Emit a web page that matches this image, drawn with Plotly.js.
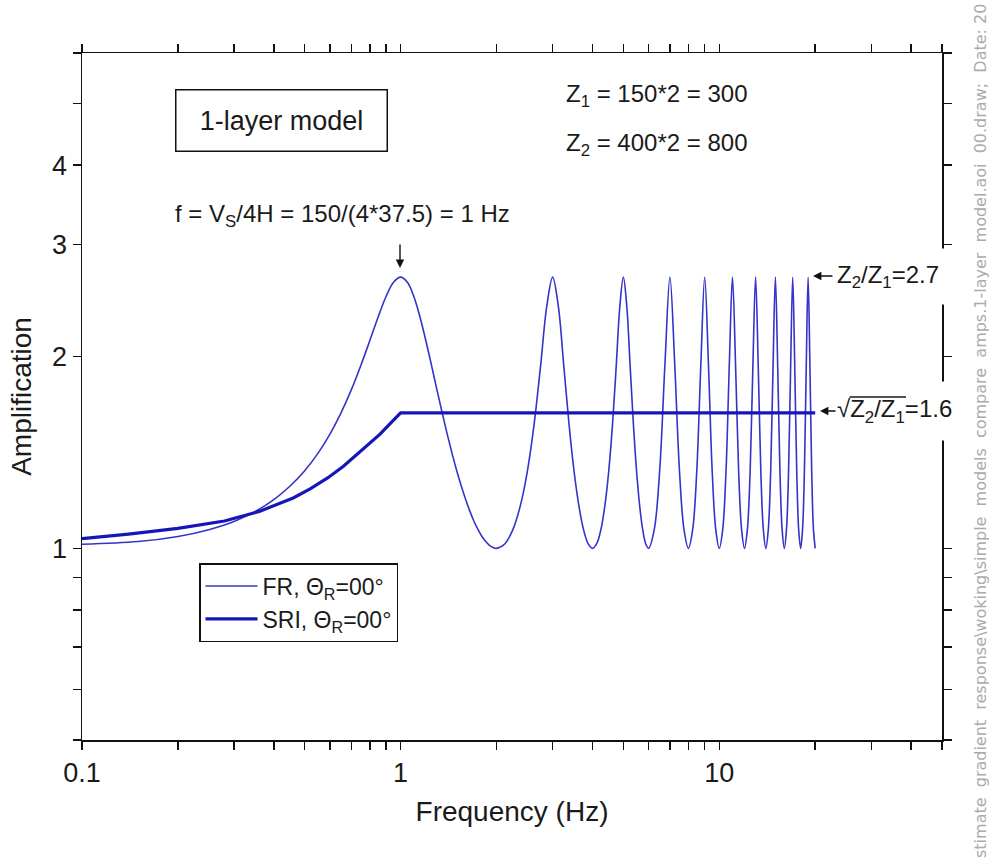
<!DOCTYPE html>
<html>
<head>
<meta charset="utf-8">
<script src="https://cdn.plot.ly/plotly-3.0.1.min.js"></script>
<style>html,body{margin:0;padding:0;background:#fff;}#chart{width:989px;height:862px;}</style>
</head>
<body>
<div id="chart"></div>
<script>
// ---------- data ----------
// FR (full resonance transfer function), 0.1 - 2 Hz
const frFreqLow = [0.1,0.15,0.2,0.25,0.3,0.35,0.4,0.45,0.5,0.55,0.6,0.65,0.7,0.75,0.8,0.85,0.9,0.95,1.0,
  1.05,1.1,1.15,1.2,1.25,1.3,1.35,1.4,1.45,1.5,1.55,1.6,1.65,1.7,1.75,1.8,1.85,1.9,1.95,2.0];
const frAmpLow = [1.015,1.025,1.044,1.07,1.102,1.143,1.193,1.253,1.324,1.41,1.512,1.633,1.774,1.938,2.119,2.309,2.487,2.618,2.667,
  2.618,2.487,2.309,2.119,1.938,1.774,1.633,1.512,1.41,1.324,1.253,1.193,1.143,1.102,1.07,1.044,1.025,1.011,1.003,1.0];
// FR, 2 - 6 Hz
const frFreqMid = [2.125,2.25,2.375,2.5,2.625,2.75,2.875,3,3.125,3.25,3.375,3.5,3.625,3.75,3.875,4,
  4.125,4.25,4.375,4.5,4.625,4.75,4.875,5,5.125,5.25,5.375,5.5,5.625,5.75,5.875,6];
const frAmpMid = [1.017,1.07,1.167,1.324,1.57,1.938,2.401,2.667,2.401,1.938,1.57,1.324,1.167,1.07,1.017,1.0,
  1.017,1.07,1.167,1.324,1.57,1.938,2.401,2.667,2.401,1.938,1.57,1.324,1.167,1.07,1.017,1.0];
// FR, 6 - 20 Hz
const frFreqHigh = [6.25,6.5,6.75,7,7.25,7.5,7.75,8,
  8.25,8.5,8.75,9,9.25,9.5,9.75,10,
  10.25,10.5,10.75,11,11.25,11.5,11.75,12,
  12.25,12.5,12.75,13,13.25,13.5,13.75,14,
  14.25,14.5,14.75,15,15.25,15.5,15.75,16,
  16.25,16.5,16.75,17,17.25,17.5,17.75,18,
  18.25,18.5,18.75,19,19.25,19.5,19.75,20];
const frAmpHigh = [1.07,1.324,1.938,2.667,1.938,1.324,1.07,1.0,
  1.07,1.324,1.938,2.667,1.938,1.324,1.07,1.0,
  1.07,1.324,1.938,2.667,1.938,1.324,1.07,1.0,
  1.07,1.324,1.938,2.667,1.938,1.324,1.07,1.0,
  1.07,1.324,1.938,2.667,1.938,1.324,1.07,1.0,
  1.07,1.324,1.938,2.667,1.938,1.324,1.07,1.0,
  1.07,1.324,1.938,2.667,1.938,1.324,1.07,1.0];
// SRI (square-root impedance)
const sriFreq = [0.1,0.14,0.2,0.28,0.36,0.46,0.52,0.59,0.66,0.75,0.86,0.95,1.0,20];
const sriAmp  = [1.036,1.053,1.075,1.104,1.143,1.20,1.24,1.29,1.345,1.42,1.51,1.59,1.633,1.633];

const seriesNames = ['FR, \u0398<sub>R</sub>=00\u00b0', 'SRI, \u0398<sub>R</sub>=00\u00b0'];

// tick values / labels
const xTickVals = [0.1,0.2,0.3,0.4,0.5,0.6,0.7,0.8,0.9,1,2,3,4,5,6,7,8,9,10,20,30,40,50];
const xTickText = ['0.1','','','','','','','','','1','','','','','','','','','10','','','',''];
const yTickVals = [0.5,0.6,0.7,0.8,0.9,1,2,3,4,5,6];
const yTickText = ['','','','','','1','2','3','4','',''];

// ---------- layout helpers ----------
const W = 989, H = 862;
const M = {l: 82, r: 47, t: 53, b: 122};
const PW = W - M.l - M.r, PH = H - M.t - M.b;
const px = x => (x - M.l) / PW;
const py = y => 1 - (y - M.t) / PH;

const FONT = 'Liberation Sans, Arial, sans-serif';
const TXT = '#1a1a1a';

const traces = [
  {x: frFreqLow.concat(frFreqMid, frFreqHigh), y: frAmpLow.concat(frAmpMid, frAmpHigh),
   type: 'scatter', mode: 'lines', name: seriesNames[0],
   line: {color: '#3434c8', width: 1.6, shape: 'spline', smoothing: 1}},
  {x: sriFreq, y: sriAmp, type: 'scatter', mode: 'lines', name: seriesNames[1],
   line: {color: '#1616b8', width: 3.2}}
];

const axisCommon = {
  showline: true, linecolor: '#111', linewidth: 1.5, mirror: 'allticks',
  ticks: 'outside', ticklen: 8, tickwidth: 1.5, tickcolor: '#111',
  showgrid: false, zeroline: false, tickmode: 'array',
  tickfont: {family: FONT, size: 27, color: TXT}
};

const annotations = [
  {xref: 'paper', yref: 'paper', x: px(281), y: py(120), xanchor: 'center', yanchor: 'middle',
   text: '1-layer model', showarrow: false, font: {family: FONT, size: 27, color: TXT},
   bordercolor: '#111', borderwidth: 1.5, borderpad: 0, width: 210, height: 60, bgcolor: 'rgba(0,0,0,0)'},
  {xref: 'paper', yref: 'paper', x: px(173), y: py(215), xanchor: 'left', yanchor: 'middle',
   text: 'f = V<sub>S</sub>/4H = 150/(4*37.5) = 1 Hz', showarrow: false, font: {family: FONT, size: 24, color: TXT}},
  {xref: 'paper', yref: 'paper', x: px(400), y: py(268), text: '', showarrow: true,
   ax: 0, ay: -25, arrowhead: 2, arrowsize: 1.2, arrowwidth: 1.4, arrowcolor: '#111'},
  {xref: 'paper', yref: 'paper', x: px(564), y: py(95), xanchor: 'left', yanchor: 'middle',
   text: 'Z<sub>1</sub> = 150*2 = 300', showarrow: false, font: {family: FONT, size: 24, color: TXT}},
  {xref: 'paper', yref: 'paper', x: px(564), y: py(145), xanchor: 'left', yanchor: 'middle',
   text: 'Z<sub>2</sub> = 400*2 = 800', showarrow: false, font: {family: FONT, size: 24, color: TXT}},
  {xref: 'paper', yref: 'paper', x: px(836), y: py(276), xanchor: 'left', yanchor: 'middle',
   text: 'Z<sub>2</sub>/Z<sub>1</sub>=2.7', showarrow: false, font: {family: FONT, size: 24, color: TXT},
   bgcolor: '#ffffff', width: 116, height: 55, align: 'left', borderpad: 0},
  {xref: 'paper', yref: 'paper', x: px(813), y: py(276), text: '', showarrow: true,
   ax: 21, ay: 0, arrowhead: 2, arrowsize: 1.2, arrowwidth: 1.4, arrowcolor: '#111'},
  {xref: 'paper', yref: 'paper', x: px(836), y: py(411), xanchor: 'left', yanchor: 'middle',
   text: '\u221aZ<sub>2</sub>/Z<sub>1</sub>=1.6', showarrow: false,
   font: {family: FONT, size: 24, color: TXT},
   bgcolor: '#ffffff', width: 122, height: 58, align: 'left', borderpad: 0},
  // vinculum of the square-root sign
  {xref: 'paper', yref: 'paper', x: px(906), y: py(397), text: '', showarrow: true,
   ax: -58, ay: 0, arrowhead: 0, arrowwidth: 1.3, arrowcolor: TXT},
  {xref: 'paper', yref: 'paper', x: px(820), y: py(411), text: '', showarrow: true,
   ax: 17, ay: 0, arrowhead: 2, arrowsize: 1.2, arrowwidth: 1.4, arrowcolor: '#111'},
  {xref: 'paper', yref: 'paper', x: px(981), y: py(431), xanchor: 'center', yanchor: 'middle',
   textangle: -90, showarrow: false,
   text: 'stimate\u00a0\u00a0gradient\u00a0\u00a0response\\woking\\simple\u00a0\u00a0models\u00a0\u00a0compare\u00a0\u00a0amps.1-layer\u00a0\u00a0model.aoi\u00a0\u00a000.draw;\u00a0\u00a0Date:\u00a020',
   font: {family: 'DejaVu Sans, sans-serif', size: 16, color: '#ababab'}}
];

const layout = {
  width: W, height: H, margin: M, paper_bgcolor: '#fff', plot_bgcolor: '#fff',
  showlegend: true,
  legend: {x: px(199), y: py(563), xanchor: 'left', yanchor: 'top',
    bordercolor: '#111', borderwidth: 1.5, bgcolor: '#fff', itemwidth: 52,
    font: {family: FONT, size: 23, color: TXT}, tracegroupgap: 0},
  xaxis: Object.assign({}, axisCommon, {type: 'log', range: [-1, Math.log10(50)],
    tickvals: xTickVals, ticktext: xTickText,
    title: {text: 'Frequency (Hz)', font: {family: FONT, size: 28, color: TXT}, standoff: 14}}),
  yaxis: Object.assign({}, axisCommon, {type: 'log', range: [Math.log10(0.5), Math.log10(6)],
    tickvals: yTickVals, ticktext: yTickText,
    title: {text: 'Amplification', font: {family: FONT, size: 28, color: TXT}, standoff: 12}}),
  annotations: annotations
};

Plotly.newPlot('chart', traces, layout, {displayModeBar: false, staticPlot: true});
</script>
</body>
</html>
